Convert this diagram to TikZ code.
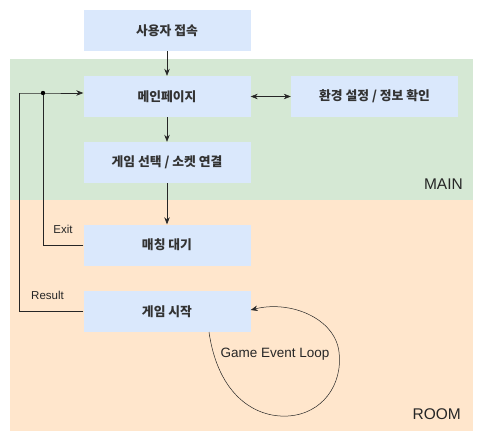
\documentclass[tikz,border=0pt]{standalone}
\usepackage{fontspec}
\setmainfont{Liberation Sans}
\newfontfamily\kr{Noto Sans CJK KR}
\usetikzlibrary{arrows.meta}
\definecolor{boxblue}{HTML}{DAE8FC}
\definecolor{zgreen}{HTML}{D5E8D4}
\definecolor{zorange}{HTML}{FFE6CC}
\definecolor{txt}{HTML}{333333}
\tikzset{
  stepbox/.style={fill=boxblue, draw=none, minimum width=167pt, minimum height=41pt, inner sep=0pt, font=\kr\bfseries\fontsize{12.8}{15}\selectfont, text=txt},
  conn/.style={draw=black!85, line width=0.6pt, -{Stealth[length=7pt,width=5.5pt]}},
  plainconn/.style={draw=black!85, line width=0.6pt},
  lbl/.style={font=\fontsize{11.5}{13}\selectfont, text=black!85, inner sep=0pt},
  zonelbl/.style={font=\fontsize{15.5}{18}\selectfont, text=black!85, inner sep=0pt}
}
\begin{document}
\begin{tikzpicture}[x=1pt,y=-1pt]
\useasboundingbox (0,0) rectangle (485,447);
% zones
\fill[zgreen] (10,59) rectangle (473,200);
\fill[zorange] (10,200) rectangle (473,431);
% boxes
\node[stepbox] (conn) at (167,30.5) {사용자 접속};
\node[stepbox] (main) at (167,96.5) {메인페이지};
\node[stepbox] (env) at (374.5,96.5) {환경 설정 / 정보 확인};
\node[stepbox] (sel) at (167,162.5) {게임 선택 / 소켓 연결};
\node[stepbox] (wait) at (167,245) {매칭 대기};
\node[stepbox] (game) at (167,311.5) {게임 시작};
% zone labels
\node[zonelbl, anchor=east] (mainlbl) at (463,184) {MAIN};
\node[zonelbl, anchor=east] (roomlbl) at (461,414) {ROOM};
% connectors
\draw[conn] (conn.south) -- (main.north);
\draw[conn] (main.south) -- (sel.north);
\draw[conn] (sel.south) -- (wait.north);
\draw[draw=black!85, line width=0.6pt, {Stealth[length=7pt,width=5.5pt]}-{Stealth[length=7pt,width=5.5pt]}] (main.east) -- (env.west);
\coordinate (dot) at (43,93);
\coordinate (outer) at (19.5,93);
\draw[conn] (outer) -- (dot) -- (main.west |- dot);
\draw[plainconn] (wait.west) -| (dot);
\draw[plainconn] (game.west) -| (outer);
\fill[black] (dot) circle (2.2pt);
\node[lbl] (exitlbl) at (63,229) {Exit};
\node[lbl] (reslbl) at (47.5,295.5) {Result};
% loop
\coordinate (loopstart) at (209,332);
\draw[conn, line width=0.5pt] (loopstart) .. controls (218,395) and (255,418) .. (288,416)
  .. controls (322,414) and (343,385) .. (339,352)
  .. controls (335,318) and (290,300) .. (game.east |- 0,310);
\node[lbl, font=\fontsize{13.5}{16}\selectfont] (looplbl) at (275,354) {Game Event Loop};
\end{tikzpicture}
\end{document}
